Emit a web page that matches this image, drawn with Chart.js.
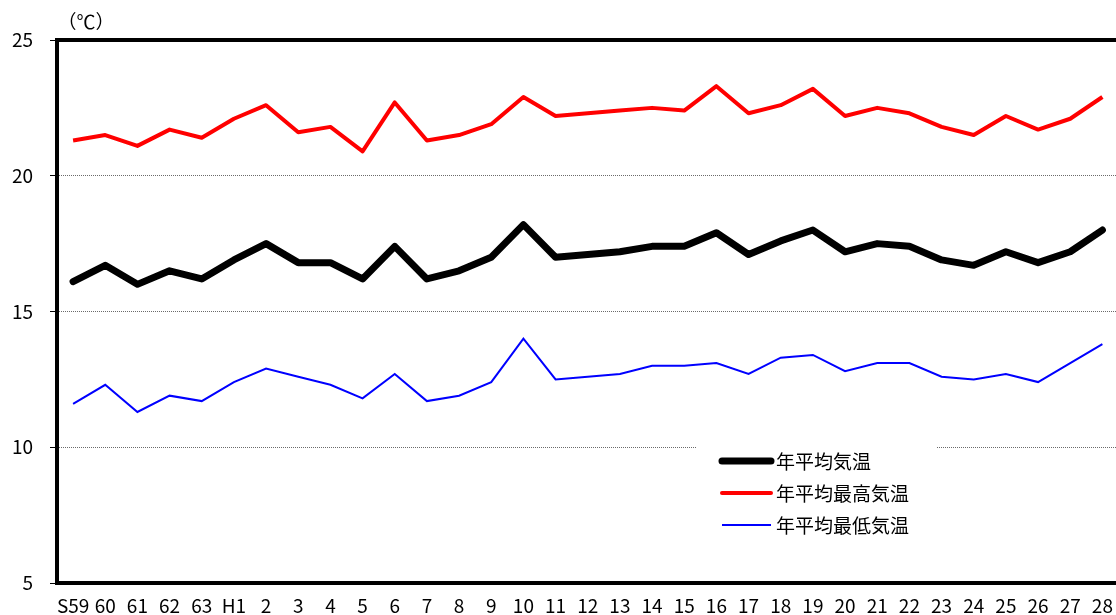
<!DOCTYPE html>
<html lang="ja">
<head>
<meta charset="utf-8">
<script src="https://cdn.jsdelivr.net/npm/chart.js@4.4.1/dist/chart.umd.min.js"></script>
<style>
  html, body { margin: 0; padding: 0; background: #fff; overflow: hidden; }
  #wrap { width: 1124px; height: 615px; }
</style>
</head>
<body>
<div id="wrap"><canvas id="tempChart" width="1124" height="615"></canvas></div>
<script>
const years = ["S59", "60", "61", "62", "63", "H1", "2", "3", "4", "5", "6", "7", "8", "9", "10", "11",
  "12", "13", "14", "15", "16", "17", "18", "19", "20", "21", "22", "23", "24", "25", "26", "27", "28"];

const meanTemp = [16.1, 16.7, 16.0, 16.5, 16.2, 16.9, 17.5, 16.8, 16.8, 16.2, 17.4, 16.2, 16.5, 17.0, 18.2, 17.0,
  17.1, 17.2, 17.4, 17.4, 17.9, 17.1, 17.6, 18.0, 17.2, 17.5, 17.4, 16.9, 16.7, 17.2, 16.8, 17.2, 18.0];

const maxTemp = [21.3, 21.5, 21.1, 21.7, 21.4, 22.1, 22.6, 21.6, 21.8, 20.9, 22.7, 21.3, 21.5, 21.9, 22.9, 22.2,
  22.3, 22.4, 22.5, 22.4, 23.3, 22.3, 22.6, 23.2, 22.2, 22.5, 22.3, 21.8, 21.5, 22.2, 21.7, 22.1, 22.9];

const minTemp = [11.6, 12.3, 11.3, 11.9, 11.7, 12.4, 12.9, 12.6, 12.3, 11.8, 12.7, 11.7, 11.9, 12.4, 14.0, 12.5,
  12.6, 12.7, 13.0, 13.0, 13.1, 12.7, 13.3, 13.4, 12.8, 13.1, 13.1, 12.6, 12.5, 12.7, 12.4, 13.1, 13.8];

const seriesNames = ["年平均気温", "年平均最高気温", "年平均最低気温"];
const yTicks = [5, 10, 15, 20, 25];

const font = "'Noto Sans CJK JP', 'Noto Sans', sans-serif";

// thick black frame round the plot, unit label and the boxed legend
const framePlugin = {
  id: "frame",
  beforeDatasetsDraw(chart) {
    const { ctx, chartArea: a } = chart;
    ctx.save();
    ctx.strokeStyle = "#000";
    ctx.lineWidth = 4;
    ctx.strokeRect(a.left, a.top, a.right - a.left, a.bottom - a.top);
    ctx.restore();
  },
  afterDatasetsDraw(chart) {
    const { ctx, chartArea: a } = chart;
    ctx.save();
    ctx.font = "19px " + font;
    ctx.fillStyle = "#000";
    ctx.textAlign = "center";
    ctx.textBaseline = "middle";
    ctx.fillText("（℃）", a.left + 29, 22);

    // legend box
    ctx.fillStyle = "#fff";
    ctx.fillRect(697, 441, 240, 100);
    ctx.textAlign = "left";
    chart.data.datasets.forEach((ds, i) => {
      const y = 461 + i * 32;
      ctx.beginPath();
      ctx.strokeStyle = ds.borderColor;
      ctx.lineWidth = ds.borderWidth;
      ctx.lineCap = ds.borderWidth > 2 ? "round" : "butt";
      ctx.moveTo(722, y);
      ctx.lineTo(771, y);
      ctx.stroke();
      ctx.fillStyle = "#000";
      ctx.fillText(ds.label, 776, y + 1);
    });
    ctx.restore();
  }
};

new Chart(document.getElementById("tempChart"), {
  type: "line",
  data: {
    labels: years,
    datasets: [
      {
        label: seriesNames[0],
        data: meanTemp,
        borderColor: "#000000",
        borderWidth: 7,
        borderCapStyle: "round",
        borderJoinStyle: "round",
        pointRadius: 0,
        tension: 0
      },
      {
        label: seriesNames[1],
        data: maxTemp,
        borderColor: "#FF0000",
        borderWidth: 4,
        borderJoinStyle: "round",
        pointRadius: 0,
        tension: 0
      },
      {
        label: seriesNames[2],
        data: minTemp,
        borderColor: "#0000FF",
        borderWidth: 2,
        pointRadius: 0,
        tension: 0
      }
    ]
  },
  options: {
    responsive: false,
    animation: false,
    layout: { padding: { top: 40, right: 4, left: 0, bottom: 0 } },
    plugins: {
      legend: { display: false },
      tooltip: { enabled: false }
    },
    scales: {
      x: {
        offset: true,
        grid: { display: false, drawTicks: false },
        border: { display: false },
        ticks: {
          autoSkip: false,
          maxRotation: 0,
          padding: 11,
          color: "#000",
          font: { family: font, size: 19 }
        },
        afterFit: (scale) => { scale.height = 32; }
      },
      y: {
        min: 5,
        max: 25,
        afterBuildTicks: (scale) => { scale.ticks = yTicks.map((v) => ({ value: v })); },
        grid: {
          color: "#6a6a6a",
          lineWidth: 1,
          tickLength: 7,
          tickColor: "#000",
          tickWidth: 1
        },
        border: { display: false, dash: [1, 1] },
        ticks: {
          padding: 17,
          color: "#000",
          font: { family: font, size: 19 }
        },
        afterFit: (scale) => { scale.width = 57; }
      }
    }
  },
  plugins: [framePlugin]
});
</script>
</body>
</html>
